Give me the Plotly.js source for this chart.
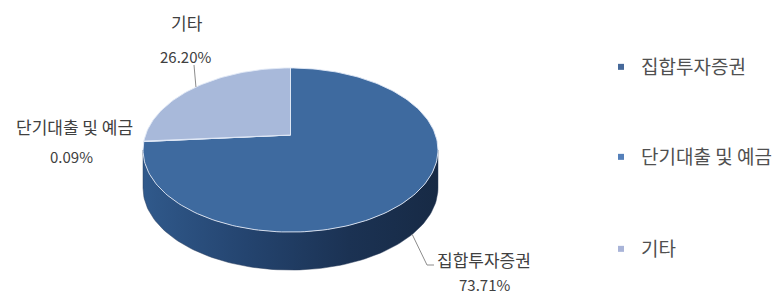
<!DOCTYPE html>
<html><head><meta charset="utf-8">
<script src="https://cdn.plot.ly/plotly-3.0.1.min.js"></script>
<style>html,body{margin:0;padding:0;background:#fff;}#chart{width:784px;height:294px;}</style>
</head><body><div id="chart"></div>
<script>
// ---- data ----
const categories = ['집합투자증권', '단기대출 및 예금', '기타'];
const values = [73.71, 0.09, 26.20];
const percentLabels = ['73.71%', '0.09%', '26.20%'];

// ---- styles ----
const FONT = '"Noto Sans CJK KR", "Noto Sans", sans-serif';
const topColors = ['#3E6A9F', '#4F81BD', '#A8B9DA'];
const legendColors = ['#46699A', '#5580BA', '#A9B4D8'];
const sideScales = [
  [[0,'#30598B'],[0.35,'#24446F'],[0.7,'#1B3253'],[1,'#172A45']],
  [[0,'#3A6BA5'],[1,'#2A4F7E']],
  [[0,'#8A9CC0'],[1,'#6E80A6']]
];

// ---- geometry (perspective pie) ----
const CX = 290.5, CY = 135, A = 145, B = 79.3, K = 0.183, DEPTH = 38;
function proj(theta){ // degrees clockwise from 12 o'clock
  const t = theta * Math.PI / 180;
  const u = Math.sin(t), v = -Math.cos(t);
  const w = 1 - K * v;
  return [CX + A * u / w, CY + B * v / w];
}
function arc(a0, a1, dy){
  const xs = [], ys = [];
  const n = Math.max(2, Math.ceil(Math.abs(a1 - a0) / 1.5));
  for (let i = 0; i <= n; i++){
    const p = proj(a0 + (a1 - a0) * i / n);
    xs.push(p[0]); ys.push(p[1] + (dy || 0));
  }
  return [xs, ys];
}

const total = values.reduce((s, v) => s + v, 0);
const starts = [], ends = [];
let acc = 0;
values.forEach(v => { starts.push(acc / total * 360); acc += v; ends.push(acc / total * 360); });

const frontA = Math.acos(-K) * 180 / Math.PI, frontB = 360 - frontA;
const traces = [];

// side walls (front visible arc)
categories.forEach((c, i) => {
  const a0 = Math.max(starts[i], frontA), a1 = Math.min(ends[i], frontB);
  if (a1 <= a0) return;
  const [tx, ty] = arc(a0, a1, 0);
  const [bx, by] = arc(a1, a0, DEPTH);
  traces.push({type:'scatter', mode:'lines', x: tx.concat(bx, [tx[0]]), y: ty.concat(by, [ty[0]]),
    fill:'toself', fillgradient:{type:'horizontal', colorscale: sideScales[i]},
    line:{width:0.8, color:'rgba(40,60,90,0.6)'}, showlegend:false, hoverinfo:'skip'});
});

// top faces
categories.forEach((c, i) => {
  const [ax, ay] = arc(starts[i], ends[i], 0);
  traces.push({type:'scatter', mode:'lines', x: [CX].concat(ax, [CX]), y: [CY].concat(ay, [CY]),
    fill:'toself', fillcolor: topColors[i], line:{width:1, color:'rgba(225,233,246,0.9)'},
    showlegend:false, hoverinfo:'skip'});
});

// leader lines from slice mid points
function midRim(i){ return proj((starts[i] + ends[i]) / 2); }
const m0 = midRim(0), m2 = midRim(2);
const mid0 = (starts[0] + ends[0]) / 2;
const frontMid0 = (mid0 > frontA && mid0 < frontB) ? DEPTH : 0;
traces.push({type:'scatter', mode:'lines', x:[m0[0], 427, 434], y:[m0[1] + frontMid0, 265, 265],
  line:{color:'#8C8C8C', width:1}, showlegend:false, hoverinfo:'skip'});
traces.push({type:'scatter', mode:'lines', x:[m2[0], 194], y:[m2[1], 65],
  line:{color:'#8C8C8C', width:1}, showlegend:false, hoverinfo:'skip'});

// legend entries
categories.forEach((c, i) => {
  traces.push({type:'scatter', mode:'markers', x:[null], y:[null], name:c,
    marker:{symbol:'square', size:6, color:legendColors[i]},
    legend: i === 0 ? 'legend' : 'legend' + (i + 1), hoverinfo:'skip'});
});

const labelPos = [[484, 259, 484, 284], [74, 126, 71, 156], [187, 22, 185, 56]];
const annotations = [];
categories.forEach((c, i) => {
  const p = labelPos[i];
  annotations.push({x:p[0], y:p[1], xref:'x', yref:'y', text:c, showarrow:false,
    font:{family:FONT, size:17, color:'#404040'}, xanchor:'center', yanchor:'middle'});
  annotations.push({x:p[2], y:p[3], xref:'x', yref:'y', text:percentLabels[i], showarrow:false,
    font:{family:FONT, size:15, color:'#404040'}, xanchor:'center', yanchor:'middle'});
});

function legendAt(yPx){
  return {x: 601/784, y: 1 - yPx/294, xanchor:'left', yanchor:'middle', bgcolor:'rgba(0,0,0,0)',
    font:{family:FONT, size:19, color:'#505050'}, borderwidth:0};
}

const layout = {
  width:784, height:294, margin:{l:0, r:0, t:0, b:0, pad:0},
  paper_bgcolor:'#ffffff', plot_bgcolor:'#ffffff',
  xaxis:{range:[0,784], visible:false, fixedrange:true},
  yaxis:{range:[294,0], visible:false, fixedrange:true},
  showlegend:true,
  legend: legendAt(67), legend2: legendAt(157), legend3: legendAt(249),
  annotations: annotations,
  hovermode:false, font:{family:FONT}
};

Plotly.newPlot('chart', traces, layout, {displayModeBar:false, staticPlot:true});
</script></body></html>
